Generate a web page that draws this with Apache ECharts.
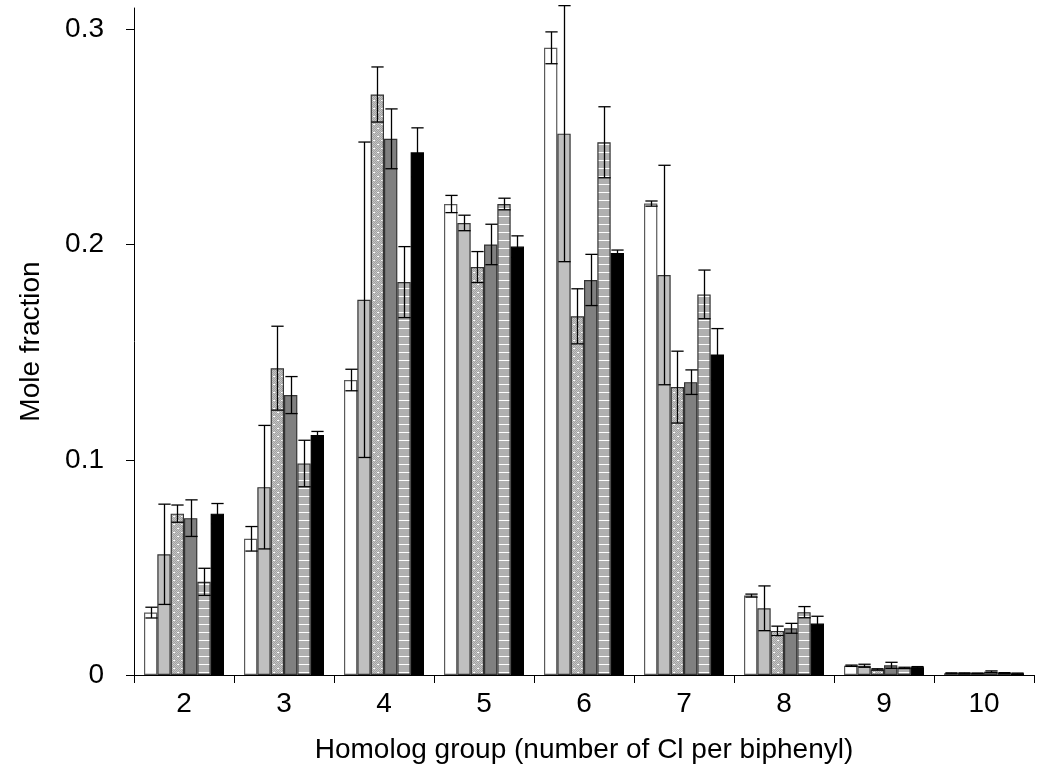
<!DOCTYPE html>
<html>
<head>
<meta charset="utf-8">
<script src="https://cdn.jsdelivr.net/npm/echarts@6/dist/echarts.min.js"></script>
<style>
  html, body { margin: 0; padding: 0; background: #fff; }
  #chart { width: 1037px; height: 782px; }
</style>
</head>
<body>
<div id="chart"></div>
<script>
// Homolog groups (number of Cl per biphenyl)
const categories = ['2', '3', '4', '5', '6', '7', '8', '9', '10'];

// Mean mole fractions for the six samples
const meanWhite  = [0.029, 0.0633, 0.1371, 0.2189, 0.2915, 0.2191, 0.0369, 0.0043, 0.0008];
const meanLight  = [0.0561, 0.0873, 0.1744, 0.2101, 0.2516, 0.1859, 0.031, 0.0043, 0.0008];
const meanDotted = [0.075, 0.1426, 0.2698, 0.1896, 0.1667, 0.1338, 0.0205, 0.0026, 0.0008];
const meanDark   = [0.0729, 0.1301, 0.2492, 0.2001, 0.1836, 0.1361, 0.0217, 0.0045, 0.0015];
const meanStripe = [0.0433, 0.0983, 0.1826, 0.2189, 0.2476, 0.1769, 0.0292, 0.0033, 0.0009];
const meanBlack  = [0.075, 0.1116, 0.2429, 0.1991, 0.1961, 0.149, 0.0239, 0.0036, 0.0007];

// Error bar half-widths
const errWhite  = [0.0025, 0.0057, 0.005, 0.004, 0.0074, 0.0012, 0.0007, 0.0003, 0.0002];
const errLight  = [0.0233, 0.0287, 0.0733, 0.0036, 0.0595, 0.051, 0.0104, 0.0007, 0.0002];
const errDotted = [0.004, 0.0195, 0.0128, 0.0072, 0.0128, 0.0167, 0.0022, 0.0003, 0.0001];
const errDark   = [0.0085, 0.0086, 0.0139, 0.0094, 0.0119, 0.0057, 0.0023, 0.0014, 0.0004];
const errStripe = [0.0063, 0.0108, 0.0165, 0.0027, 0.0165, 0.0113, 0.0026, 0.0003, 0.0002];
const errBlack  = [0.0047, 0.0016, 0.0114, 0.005, 0.0014, 0.012, 0.0034, 0.0003, 0.0002];

const yTicks = [0, 0.1, 0.2, 0.3];

// Fill patterns
function makeDotted() {
  const c = document.createElement('canvas');
  c.width = 8; c.height = 8;
  const g = c.getContext('2d');
  g.fillStyle = '#c4c4c4';
  g.fillRect(0, 0, 8, 8);
  g.fillStyle = '#a2a2a2';
  for (let y = 0; y < 8; y++)
    for (let x = 0; x < 8; x++)
      if ((x + y) % 2 === 0) g.fillRect(x, y, 1, 1);
  g.fillStyle = '#ffffff';
  g.fillRect(1, 0, 2, 1);
  g.fillRect(5, 4, 2, 1);
  return c;
}
function makeStripe() {
  const c = document.createElement('canvas');
  c.width = 4; c.height = 8;
  const g = c.getContext('2d');
  g.fillStyle = '#b0b0b0';
  g.fillRect(0, 0, 4, 8);
  g.fillStyle = '#ffffff';
  g.fillRect(0, 0, 4, 1);
  return c;
}

const seriesDefs = [
  { name: 'S1', mean: meanWhite,  err: errWhite,  color: '#ffffff', border: '#5a5a5a' },
  { name: 'S2', mean: meanLight,  err: errLight,  color: '#c0c0c0', border: '#333333' },
  { name: 'S3', mean: meanDotted, err: errDotted, color: { image: makeDotted(), repeat: 'repeat' }, border: '#333333' },
  { name: 'S4', mean: meanDark,   err: errDark,   color: '#808080', border: '#333333' },
  { name: 'S5', mean: meanStripe, err: errStripe, color: { image: makeStripe(), repeat: 'repeat' }, border: '#333333' },
  { name: 'S6', mean: meanBlack,  err: errBlack,  color: '#000000', border: '#000000' }
];
const nBars = seriesDefs.length;
const catGapRatio = 0.2;

const series = [];
seriesDefs.forEach(function (d) {
  series.push({
    name: d.name,
    type: 'bar',
    data: d.mean,
    barGap: '0%',
    barCategoryGap: '20%',
    itemStyle: { color: d.color, borderColor: d.border, borderWidth: 1.2 },
    silent: true,
    z: 2
  });
});
seriesDefs.forEach(function (d, s) {
  series.push({
    name: d.name + ' err',
    type: 'custom',
    silent: true,
    z: 5,
    data: d.mean.map(function (v, i) { return [i, v, d.err[i]]; }),
    renderItem: function (params, api) {
      const ci = api.value(0), v = api.value(1), e = api.value(2);
      const catW = api.size([1, 0])[0];
      const barW = catW * (1 - catGapRatio) / nBars;
      const c = api.coord([ci, v]);
      const x = Math.round(c[0] + (s - (nBars - 1) / 2) * barW) + 0.5;
      const yt = api.coord([ci, v + e])[1];
      const yb = api.coord([ci, Math.max(0, v - e)])[1];
      const hw = barW * 0.46;
      const st = { stroke: '#000', lineWidth: 1.3 };
      return {
        type: 'group',
        children: [
          { type: 'line', shape: { x1: x, y1: yt, x2: x, y2: yb }, style: st },
          { type: 'line', shape: { x1: x - hw, y1: yt, x2: x + hw, y2: yt }, style: st },
          { type: 'line', shape: { x1: x - hw, y1: yb, x2: x + hw, y2: yb }, style: st }
        ]
      };
    }
  });
});

const font = '"Liberation Sans", Arial, Helvetica, sans-serif';
const chart = echarts.init(document.getElementById('chart'), null, { renderer: 'canvas' });
chart.setOption({
  animation: false,
  backgroundColor: '#ffffff',
  grid: { left: 134, right: 3, top: 8, bottom: 107, containLabel: false },
  xAxis: {
    type: 'category',
    data: categories,
    boundaryGap: true,
    name: 'Homolog group (number of Cl per biphenyl)',
    nameLocation: 'middle',
    nameGap: 61,
    nameTextStyle: { fontFamily: font, fontSize: 28, color: '#000' },
    axisLine: { lineStyle: { color: '#000', width: 1 } },
    axisTick: { show: true, interval: 0, length: 8, lineStyle: { color: '#000' } },
    axisLabel: { fontFamily: font, fontSize: 28, color: '#000', margin: 15, interval: 0 },
    splitLine: { show: false }
  },
  yAxis: {
    type: 'value',
    min: 0,
    max: 0.31,
    name: 'Mole fraction',
    nameLocation: 'middle',
    nameGap: 89,
    nameRotate: 90,
    nameTextStyle: { fontFamily: font, fontSize: 28, color: '#000' },
    axisLine: { show: true, lineStyle: { color: '#000', width: 1 } },
    axisTick: { show: true, length: 8, lineStyle: { color: '#000' }, customValues: yTicks },
    axisLabel: { fontFamily: font, fontSize: 28, color: '#000', margin: 30, customValues: yTicks },
    splitLine: { show: false }
  },
  series: series
});
</script>
</body>
</html>
